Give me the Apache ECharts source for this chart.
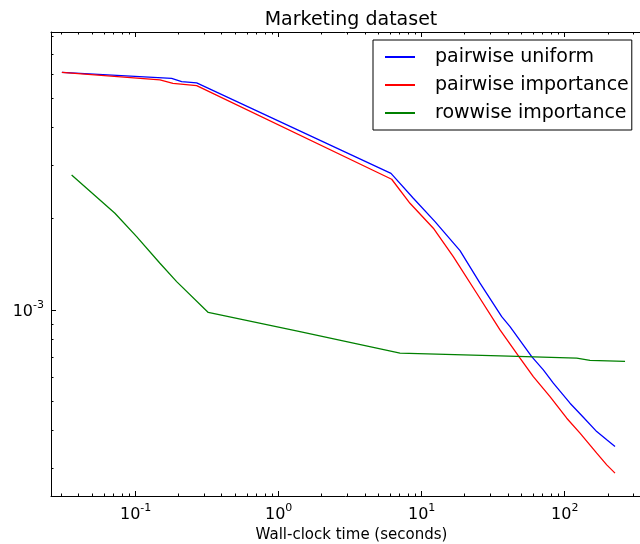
<!DOCTYPE html>
<html>
<head>
<meta charset="utf-8">
<script src="https://cdn.jsdelivr.net/npm/echarts@6/dist/echarts.min.js"></script>
<style>
  html, body { margin: 0; padding: 0; background: #fff; }
  #chart { width: 640px; height: 544px; }
</style>
</head>
<body>
<div id="chart"></div>
<script>
// wall-clock time (s) and error
var uniformTime = [0.0305, 0.1785, 0.2098, 0.2671, 6.10, 8.74, 12.39, 18.53, 25.56, 36.26, 41.45, 58.78, 70.86, 83.24, 108.9, 134.9, 167.4, 196.7, 224.7];
var uniformErr = [0.006087, 0.005817, 0.005669, 0.005621, 0.002822, 0.002336, 0.001956, 0.001569, 0.001225, 0.000950, 0.000881, 0.000701, 0.000634, 0.000573, 0.000492, 0.0004424, 0.0003965, 0.0003724, 0.0003538];

var importanceTime = [0.0305, 0.1479, 0.1823, 0.2671, 6.169, 8.283, 12.06, 16.63, 24.25, 35.28, 48.69, 60.31, 78.92, 103.3, 127.9, 167.4, 196.7, 224.7];
var importanceErr = [0.006087, 0.005743, 0.0056, 0.0055, 0.0027, 0.002249, 0.001861, 0.0015, 0.001135, 0.000859, 0.000693, 0.000602, 0.0005175, 0.000439, 0.0003918, 0.0003366, 0.0003079, 0.0002891];

var rowwiseTime = [0.03568, 0.07164, 0.1016, 0.1479, 0.1935, 0.3219, 1.409, 7.05, 35.28, 121.3, 150.3, 264.1];
var rowwiseErr = [0.00279, 0.002085, 0.001745, 0.001426, 0.00124, 0.000981, 0.000848, 0.00072, 0.0007048, 0.000693, 0.0006813, 0.000676];

var seriesNames = ["pairwise uniform", "pairwise importance", "rowwise importance"];
var seriesColors = ["#0000ff", "#ff0000", "#008000"];

var xMajor = [0.1, 1, 10, 100];
var yMajor = [0.001];
var xRange = [0.0256, 336];
var yRange = [0.000243, 0.00827];

// minor log ticks (2..9 x 10^n)
function minorTicks(lo, hi) {
  var out = [];
  for (var e = -5; e <= 3; e++) {
    for (var k = 2; k <= 9; k++) {
      var v = k * Math.pow(10, e);
      if (v > lo && v < hi) out.push(v);
    }
  }
  return out;
}

function pairs(xs, ys) {
  var d = [];
  for (var i = 0; i < xs.length; i++) d.push([xs[i], ys[i]]);
  return d;
}

function powLabel(v) {
  var e = Math.round(Math.log(v) / Math.LN10);
  return "{b|10}{s|" + e + "}";
}

var font = "DejaVu Sans";
var rich = {
  b: { fontFamily: font, fontSize: 16, color: "#000", verticalAlign: "bottom", lineHeight: 20 },
  s: { fontFamily: font, fontSize: 11, color: "#000", verticalAlign: "top", lineHeight: 11 }
};

function xAxisDef(pos, major, showLabel) {
  var ax = {
    type: "log",
    logBase: 10,
    position: pos,
    min: xRange[0],
    max: xRange[1],
    splitLine: { show: false },
    axisLine: { show: major, onZero: false, lineStyle: { color: "#000", width: 1 } },
    axisTick: {
      show: true,
      inside: true,
      length: major ? 5 : 2.5,
      lineStyle: { color: "#000", width: 1 },
      customValues: major ? xMajor : minorTicks(xRange[0], xRange[1])
    },
    axisLabel: { show: false }
  };
  if (showLabel) {
    ax.axisLabel = {
      show: true,
      customValues: xMajor,
      margin: 7,
      formatter: powLabel,
      rich: rich
    };
    ax.name = "Wall-clock time (seconds)";
    ax.nameLocation = "middle";
    ax.nameGap = 29;
    ax.nameTextStyle = { fontFamily: font, fontSize: 15, color: "#000", verticalAlign: "top", padding: [0, 0, 0, 12] };
  }
  return ax;
}

function yAxisDef(pos, major, showLabel) {
  var ax = {
    type: "log",
    logBase: 10,
    position: pos,
    min: yRange[0],
    max: yRange[1],
    splitLine: { show: false },
    axisLine: { show: major, onZero: false, lineStyle: { color: "#000", width: 1 } },
    axisTick: {
      show: true,
      inside: true,
      length: major ? 5 : 2.5,
      lineStyle: { color: "#000", width: 1 },
      customValues: major ? yMajor : minorTicks(yRange[0], yRange[1])
    },
    axisLabel: { show: false }
  };
  if (showLabel) {
    ax.axisLabel = {
      show: true,
      customValues: yMajor,
      margin: 7,
      formatter: powLabel,
      rich: rich
    };
  }
  return ax;
}

var series = [];
var datas = [pairs(uniformTime, uniformErr), pairs(importanceTime, importanceErr), pairs(rowwiseTime, rowwiseErr)];
for (var i = 0; i < datas.length; i++) {
  series.push({
    name: seriesNames[i],
    type: "line",
    xAxisIndex: 0,
    yAxisIndex: 0,
    data: datas[i],
    symbol: "none",
    showSymbol: false,
    animation: false,
    lineStyle: { color: seriesColors[i], width: 1.3 },
    itemStyle: { color: seriesColors[i] }
  });
}

var option = {
  backgroundColor: "#fff",
  animation: false,
  title: {
    text: "Marketing dataset",
    left: 346,
    top: 6,
    textAlign: "center",
    textStyle: { fontFamily: font, fontSize: 19, fontWeight: "normal", color: "#000" }
  },
  legend: {
    orient: "vertical",
    left: 373,
    top: 40,
    padding: [6, 3, 6, 12],
    icon: "rect",
    itemWidth: 30,
    itemHeight: 2,
    itemGap: 6,
    borderColor: "#000",
    borderWidth: 1,
    backgroundColor: "#fff",
    data: seriesNames,
    textStyle: { fontFamily: font, fontSize: 19, color: "#000", lineHeight: 22, padding: [0, 0, 0, 15] }
  },
  grid: { left: 51, right: 0, top: 32, bottom: 48, containLabel: false, outerBoundsMode: "none" },
  xAxis: [
    xAxisDef("bottom", true, true),
    xAxisDef("bottom", false, false),
    xAxisDef("top", true, false),
    xAxisDef("top", false, false)
  ],
  yAxis: [
    yAxisDef("left", true, true),
    yAxisDef("left", false, false)
  ],
  series: series
};

var myChart = echarts.init(document.getElementById("chart"));
myChart.setOption(option);
</script>
</body>
</html>
